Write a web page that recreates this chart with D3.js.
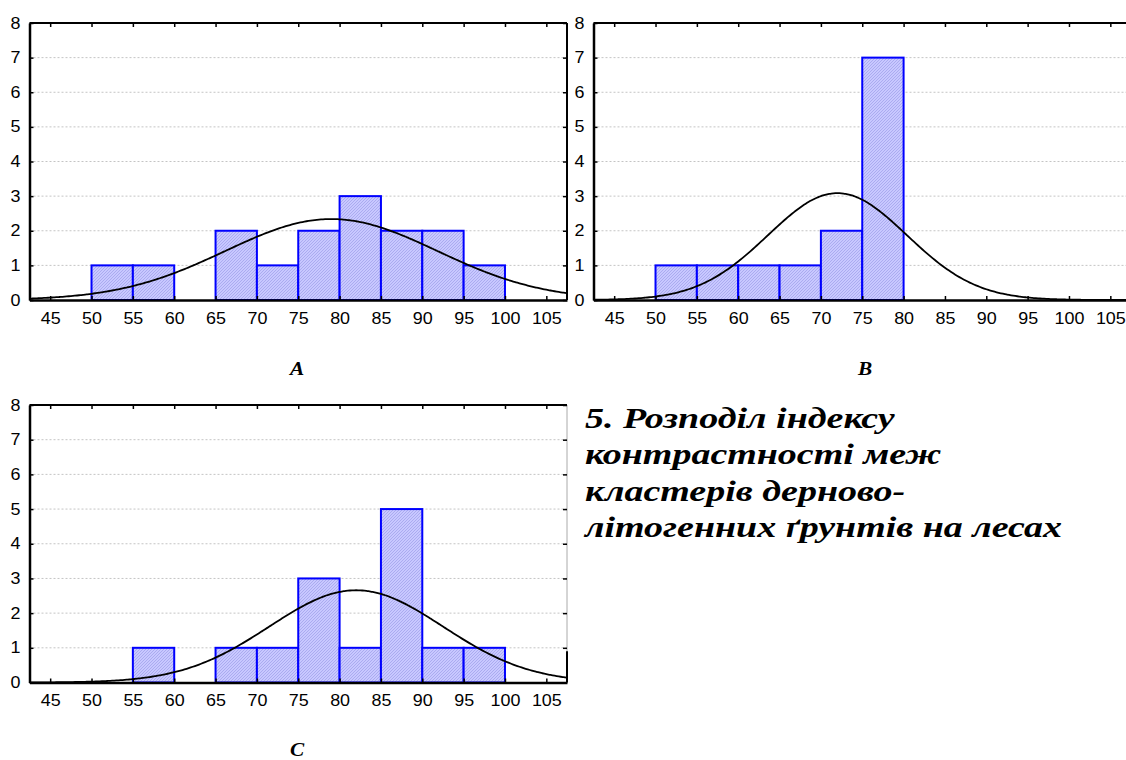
<!DOCTYPE html>
<html>
<head>
<meta charset="utf-8">
<script src="https://cdn.jsdelivr.net/npm/d3@7"></script>
<style>
	body { margin: 0; background: #fff; }
	svg { display: block; }
</style>
</head>
<body>
<svg id="chart" width="1126" height="760"></svg>
<script>
// bin left edges, bin width 5
const binStarts = [50, 55, 60, 65, 70, 75, 80, 85, 90, 95];
const binWidth = 5;
const countsA = [1, 1, 0, 2, 1, 2, 3, 2, 2, 1];
const countsB = [1, 1, 1, 1, 2, 7, 0, 0, 0, 0];
const countsC = [0, 1, 0, 1, 1, 3, 1, 5, 1, 1];

// fitted normal curves (mean, sd, n)
const fitA = [79, 12.8, 15];
const fitB = [72, 8.4, 13];
const fitC = [82, 10.5, 14];

const xTicks = [45, 50, 55, 60, 65, 70, 75, 80, 85, 90, 95, 100, 105];
const yTicks = [0, 1, 2, 3, 4, 5, 6, 7, 8];

const caption = [
	"5. Розподіл індексу",
	"контрастності меж",
	"кластерів дерново-",
	"літогенних ґрунтів на лесах",
];

const sansFont = "'Liberation Sans', Arial, sans-serif";
const serifFont = "'Liberation Serif', 'Times New Roman', serif";
// the source picture is stretched sideways, so the text is too
const stretchTick = 1.12;
const stretchCaption = 1.31;

const svg = d3.select("#chart");

const defs = svg.append("defs");
const pat = defs
	.append("pattern")
	.attr("id", "hatch")
	.attr("patternUnits", "userSpaceOnUse")
	.attr("width", 3)
	.attr("height", 3);
pat.append("rect").attr("width", 3).attr("height", 3).attr("fill", "#c8c8ff");
pat.append("path").attr("d", "M0,3 L3,0 M-1,1 L1,-1 M2,4 L4,2").attr("stroke", "#a8a8ee").attr("stroke-width", 0.9);

const panels = [
	{ id: "A", counts: countsA, fit: fitA, x0: 29.5, x1: 567, y0: 300, y1: 23, label: [297, 375], rightAxis: "full" },
	{ id: "B", counts: countsB, fit: fitB, x0: 593.5, x1: 1131, y0: 300, y1: 23, label: [865, 375], rightAxis: "full" },
	{ id: "C", counts: countsC, fit: fitC, x0: 29.5, x1: 567, y0: 682.5, y1: 405, label: [297, 756], rightAxis: "partial" },
];

panels.forEach((p) => drawPanel(p));

function drawPanel(p) {
	const x = d3.scaleLinear().domain([42.5, 107.5]).range([p.x0, p.x1]);
	const y = d3.scaleLinear().domain([0, 8]).range([p.y0, p.y1]);
	const g = svg.append("g").attr("class", "panel-" + p.id);

	defs.append("clipPath")
		.attr("id", "clip" + p.id)
		.append("rect")
		.attr("x", p.x0)
		.attr("y", p.y1)
		.attr("width", p.x1 - p.x0)
		.attr("height", p.y0 - p.y1);

	// grid
	g.selectAll(".grid")
		.data(yTicks.filter((d) => d > 0 && d < 8))
		.join("line")
		.attr("class", "grid")
		.attr("x1", p.x0)
		.attr("x2", p.x1)
		.attr("y1", (d) => y(d))
		.attr("y2", (d) => y(d))
		.attr("stroke", "#c4c4c4")
		.attr("stroke-width", 1)
		.attr("stroke-dasharray", "2,2");

	// bars
	const bars = binStarts.map((b, i) => ({ start: b, value: p.counts[i] })).filter((d) => d.value > 0);
	g.selectAll(".bar")
		.data(bars)
		.join("rect")
		.attr("class", "bar")
		.attr("x", (d) => x(d.start))
		.attr("width", (d) => x(d.start + binWidth) - x(d.start))
		.attr("y", (d) => y(d.value))
		.attr("height", (d) => y(0) - y(d.value))
		.attr("fill", "url(#hatch)")
		.attr("stroke", "#0000ff")
		.attr("stroke-width", 2);

	// normal fit
	const [mu, sd, n] = p.fit;
	const peak = (n * binWidth) / (sd * Math.sqrt(2 * Math.PI));
	const pts = d3.range(42.5, 107.6, 0.25).map((v) => [v, peak * Math.exp(-0.5 * ((v - mu) / sd) ** 2)]);
	g.append("path")
		.datum(pts)
		.attr("clip-path", "url(#clip" + p.id + ")")
		.attr("fill", "none")
		.attr("stroke", "#000")
		.attr("stroke-width", 1.8)
		.attr("d", d3.line().x((d) => x(d[0])).y((d) => y(d[1])).curve(d3.curveBasis));

	// frame
	const rightColor = p.rightAxis === "full" ? "#000" : "#aaa";
	g.append("line").attr("x1", p.x1).attr("x2", p.x1).attr("y1", p.y1).attr("y2", p.y0)
		.attr("stroke", rightColor).attr("stroke-width", p.rightAxis === "full" ? 2 : 1);
	if (p.rightAxis === "partial") {
		g.append("line").attr("x1", p.x1).attr("x2", p.x1).attr("y1", y(0.9)).attr("y2", p.y0)
			.attr("stroke", "#000").attr("stroke-width", 2);
	}
	g.append("line").attr("x1", p.x0).attr("x2", p.x1).attr("y1", p.y1).attr("y2", p.y1)
		.attr("stroke", "#000").attr("stroke-width", 2);

	// axes, ticks pointing inward
	const bottom = g.append("g").attr("transform", `translate(0,${p.y0})`)
		.call(d3.axisBottom(x).tickValues(xTicks).tickSizeInner(-4).tickSizeOuter(0).tickPadding(12.5));
	const top = g.append("g").attr("transform", `translate(0,${p.y1})`)
		.call(d3.axisTop(x).tickValues(xTicks).tickSizeInner(-4).tickSizeOuter(0).tickFormat(""));
	const left = g.append("g").attr("transform", `translate(${p.x0},0)`)
		.call(d3.axisLeft(y).tickValues(yTicks).tickSizeInner(-4).tickSizeOuter(0).tickPadding(8));
	const right = g.append("g").attr("transform", `translate(${p.x1},0)`)
		.call(d3.axisRight(y).tickValues(yTicks).tickSizeInner(-4).tickSizeOuter(0).tickFormat(""));

	[bottom, top, left, right].forEach((a) => {
		a.attr("font-family", sansFont).attr("font-size", 16);
		a.selectAll(".tick line").attr("stroke", "#000").attr("stroke-width", 1.5);
		a.selectAll("text").attr("fill", "#000").attr("transform", `scale(${stretchTick},1)`);
	});
	top.select(".domain").remove();
	right.select(".domain").remove();
	bottom.select(".domain").attr("stroke", "#000").attr("stroke-width", 2.5);
	left.select(".domain").attr("stroke", "#000").attr("stroke-width", 2.5);

	// panel letter
	svg.append("text")
		.attr("transform", `translate(${p.label[0]},${p.label[1]}) scale(${stretchTick},1)`)
		.attr("text-anchor", "middle")
		.attr("font-family", serifFont)
		.attr("font-weight", "bold")
		.attr("font-style", "italic")
		.attr("font-size", 19)
		.text(p.id);
}

svg.append("g")
	.attr("font-family", serifFont)
	.attr("font-weight", "bold")
	.attr("font-style", "italic")
	.attr("font-size", 29)
	.selectAll("text")
	.data(caption)
	.join("text")
	.attr("transform", (d, i) => `translate(585,${428 + i * 36.3}) scale(${stretchCaption},1)`)
	.text((d) => d);
</script>
</body>
</html>
